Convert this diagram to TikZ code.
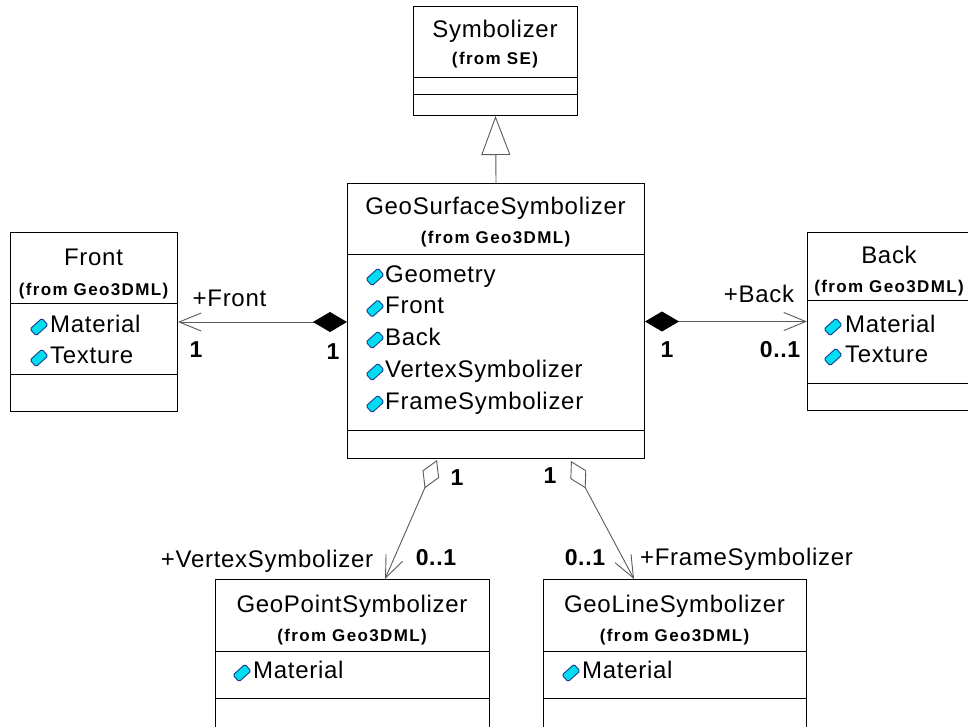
\documentclass[tikz,border=0pt]{standalone}
\usepackage{fontspec}
\setmainfont[LetterSpace=3]{Liberation Sans}
\newfontfamily\fromfont[LetterSpace=8]{Liberation Sans}
\usetikzlibrary{arrows.meta}
\definecolor{icofill}{RGB}{0,220,240}
\definecolor{icoline}{RGB}{20,60,140}
\definecolor{connc}{RGB}{90,90,90}
\tikzset{
  cls/.style={draw=black, line width=1pt, fill=white, rectangle, inner sep=0pt, anchor=north west},
  sep/.style={draw=black, line width=1pt},
  ttl/.style={anchor=base, inner sep=0pt, font=\fontsize{24}{28}\selectfont},
  frm/.style={anchor=base, inner sep=0pt, font=\fromfont\bfseries\fontsize{17}{20}\selectfont},
  attr/.style={anchor=base west, inner sep=0pt, font=\fontsize{24}{28}\selectfont},
  role/.style={anchor=base, inner sep=0pt, font=\fontsize{24}{28}\selectfont},
  mult/.style={anchor=base, inner sep=0pt, font=\bfseries\fontsize{23}{28}\selectfont},
  ico/.style={draw=icoline, fill=icofill, line width=0.9pt, rectangle, minimum width=16pt, minimum height=9pt, inner sep=0pt, rotate=42, rounded corners=1.5pt},
  conn/.style={draw=connc, line width=0.9pt},
}
\begin{document}
\begin{tikzpicture}[x=1pt, y=-1pt]
\useasboundingbox (0,0) rectangle (968,726);
\clip (0,0) rectangle (968,726);
\fill[white] (0,0) rectangle (968,726);

% Symbolizer
\node[cls, minimum width=164pt, minimum height=109pt] (sym) at (413,6) {};
\draw[sep] (413,77) -- (577,77);
\draw[sep] (413,94) -- (577,94);
\node[ttl] (symt) at (495,37) {Symbolizer};
\node[frm] (symf) at (495,64) {(from SE)};

% GeoSurfaceSymbolizer
\node[cls, minimum width=297pt, minimum height=275pt] (surf) at (347,183) {};
\draw[sep] (347,254) -- (644,254);
\draw[sep] (347,430) -- (644,430);
\node[ttl] (surft) at (495.5,214) {GeoSurfaceSymbolizer};
\node[frm] (surff) at (495.5,243) {(from Geo3DML)};
\node[ico] (si1) at (375,277) {};
\node[attr] (sa1) at (385,282) {Geometry};
\node[ico] (si2) at (375,308.5) {};
\node[attr] (sa2) at (385,313.5) {Front};
\node[ico] (si3) at (375,340) {};
\node[attr] (sa3) at (385,345) {Back};
\node[ico] (si4) at (375,372) {};
\node[attr] (sa4) at (385,377) {VertexSymbolizer};
\node[ico] (si5) at (375,404) {};
\node[attr] (sa5) at (385,409) {FrameSymbolizer};

% Front
\node[cls, minimum width=167pt, minimum height=179pt] (front) at (10,232) {};
\draw[sep] (10,303) -- (177,303);
\draw[sep] (10,374) -- (177,374);
\node[ttl] (frontt) at (93.5,265) {Front};
\node[frm] (frontf) at (93.5,295) {(from Geo3DML)};
\node[ico] (fi1) at (39,327) {};
\node[attr] (fa1) at (50,332) {Material};
\node[ico] (fi2) at (39,358) {};
\node[attr] (fa2) at (50,363) {Texture};

% Back
\node[cls, minimum width=170pt, minimum height=178pt] (back) at (807,232) {};
\draw[sep] (807,300) -- (977,300);
\draw[sep] (807,383) -- (977,383);
\node[ttl] (backt) at (889,263) {Back};
\node[frm] (backf) at (889,292) {(from Geo3DML)};
\node[ico] (bi1) at (833,327) {};
\node[attr] (ba1) at (845,332) {Material};
\node[ico] (bi2) at (833,357) {};
\node[attr] (ba2) at (845,362) {Texture};

% GeoPointSymbolizer
\node[cls, minimum width=274pt, minimum height=170pt] (gp) at (215,579) {};
\draw[sep] (215,651) -- (489,651);
\draw[sep] (215,698) -- (489,698);
\node[ttl] (gpt) at (352,612) {GeoPointSymbolizer};
\node[frm] (gpf) at (352,641) {(from Geo3DML)};
\node[ico] (gi1) at (242,673) {};
\node[attr] (ga1) at (253,678) {Material};

% GeoLineSymbolizer
\node[cls, minimum width=263pt, minimum height=170pt] (gl) at (543,579) {};
\draw[sep] (543,651) -- (806,651);
\draw[sep] (543,698) -- (806,698);
\node[ttl] (glt) at (674.5,612) {GeoLineSymbolizer};
\node[frm] (glf) at (674.5,641) {(from Geo3DML)};
\node[ico] (li1) at (571,673) {};
\node[attr] (la1) at (582,678) {Material};

% connectors
\draw[conn, -{Triangle[open, length=39pt, width=29pt]}] (surf.north) -- (sym.south);
\draw[conn, {Diamond[length=34pt, width=20pt, color=black]}-{Straight Barb[length=22pt, width=18pt]}]
  (surf.west |- front.east) -- (front.east);
\draw[conn, {Diamond[length=34pt, width=20pt, color=black]}-{Straight Barb[length=22pt, width=18pt]}]
  (surf.east |- back.west) -- (back.west);
\coordinate (vA) at (437,460);
\coordinate (vB) at (385,579);
\coordinate (fA) at (571,461);
\coordinate (fB) at (634,579);
\draw[conn, {Diamond[open, length=31pt, width=18pt]}-{Straight Barb[length=22pt, width=18pt]}] (vA) -- (vB);
\draw[conn, {Diamond[open, length=31pt, width=18pt]}-{Straight Barb[length=22pt, width=18pt]}] (fA) -- (fB);

% labels
\node[role] (lf) at (229.5,306) {+Front};
\node[mult] (mf1) at (196,357) {1};
\node[mult] (mf2) at (333,359) {1};
\node[role] (lb) at (759,302) {+Back};
\node[mult] (mb1) at (667,357) {1};
\node[mult] (mb2) at (780,357) {0..1};
\node[mult] (mv1) at (457,485) {1};
\node[mult] (ml1) at (550,483) {1};
\node[role] (lv) at (267,567) {+VertexSymbolizer};
\node[mult] (mv2) at (436,565) {0..1};
\node[mult] (ml2) at (585,565) {0..1};
\node[role] (ll) at (746.5,565) {+FrameSymbolizer};
\end{tikzpicture}
\end{document}
